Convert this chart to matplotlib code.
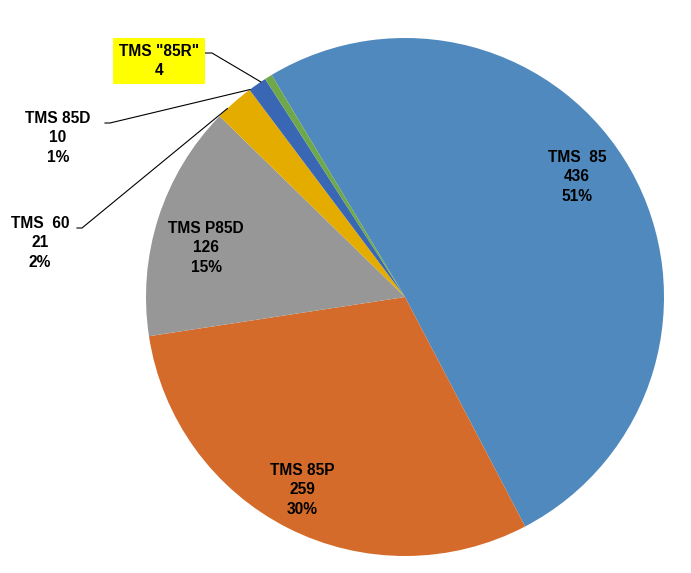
import matplotlib.pyplot as plt
import numpy as np

names = ['TMS  85', 'TMS 85P', 'TMS P85D', 'TMS  60', 'TMS 85D', 'TMS "85R"']
counts = [436, 259, 126, 21, 10, 4]
pcts = ['51%', '30%', '15%', '2%', '1%', '']
colors = ['#4F89BD', '#D46B2A', '#979797', '#E5AC00', '#3A67B3', '#6EA84A']

W, H = 691, 573
CX, CY, R = 405, 297, 259

def px(x, y):
    # pixel -> data coords (pie radius 1)
    return (x - CX) / R, (CY - y) / R

plt.rcParams['font.family'] = ['Liberation Sans', 'DejaVu Sans']
fig = plt.figure(figsize=(W / 100, H / 100), dpi=100)
ax = fig.add_axes([0, 0, 1, 1])
wedges, _ = ax.pie(counts, colors=colors, startangle=121, counterclock=False,
                   radius=1, wedgeprops=dict(linewidth=0))
ax.set_xlim(-CX / R, (W - CX) / R)
ax.set_ylim(-(H - CY) / R, CY / R)
ax.set_aspect('auto')
ax.axis('off')

def lab(i):
    s = names[i] + '\n' + str(counts[i])
    if pcts[i]:
        s += '\n' + pcts[i]
    return s

# labels inside
inside = {0: (577, 177), 1: (302, 490), 2: (206, 248)}
for i, (x, y) in inside.items():
    ax.text(*px(x, y), lab(i), ha='center', va='center', fontsize=11.2,
            fontweight='bold', linespacing=1.34)

# outside labels with leader lines
outside = {3: ((40, 243), (77, 228), (82, 228)),
           4: ((58, 138), (105, 123), (110, 123)),
           5: ((159, 61), (205, 53), (212, 53))}
for i, (c, a, b) in outside.items():
    bbox = None
    if i == 5:
        bbox = dict(facecolor='#FFFF00', edgecolor='none', pad=4)
    ax.text(*px(*c), lab(i), ha='center', va='center', fontsize=11.2,
            fontweight='bold', linespacing=1.34, bbox=bbox)
    w = wedges[i]
    ang = np.deg2rad((w.theta1 + w.theta2) / 2 + 2)
    ex, ey = 1.0 * np.cos(ang), 1.0 * np.sin(ang)
    ax.plot([px(*a)[0], px(*b)[0], ex], [px(*a)[1], px(*b)[1], ey],
            color='black', lw=0.8)

fig.savefig('out.png', dpi=100)
